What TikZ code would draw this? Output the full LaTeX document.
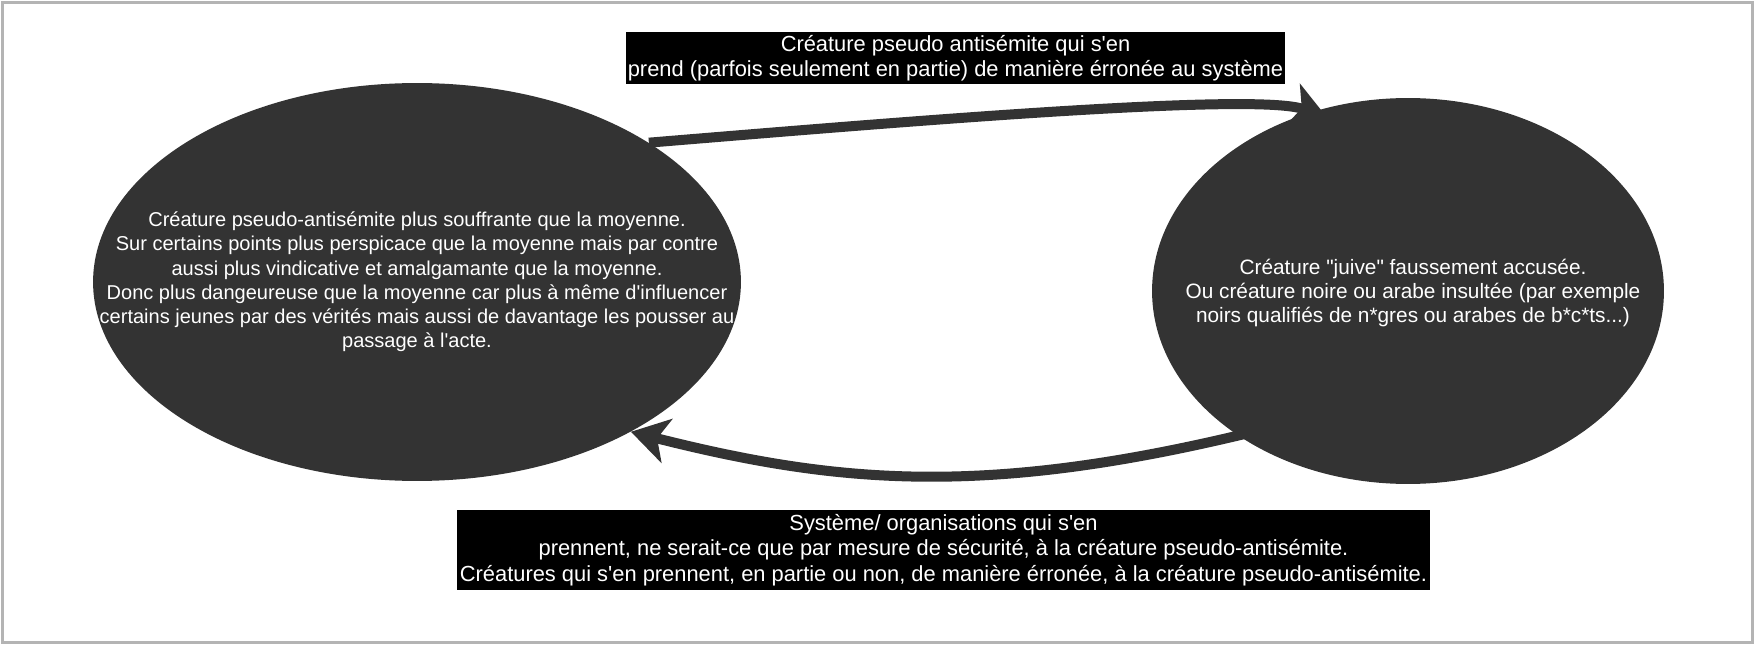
\documentclass[tikz,border=0pt]{standalone}
\usepackage{fontspec}
\setmainfont{Liberation Sans}
\usetikzlibrary{shapes.geometric,arrows.meta,calc}
\definecolor{blobgray}{HTML}{333333}
\definecolor{framegray}{HTML}{B4B4B4}
\begin{document}
\begin{tikzpicture}[x=0.02cm,y=-0.02cm,
    blob/.style={ellipse,fill=blobgray,draw=none,inner sep=0pt},
    blobtext/.style={text=white,align=center,inner sep=0pt,
      font=\fontsize{11.4pt}{13.8pt}\selectfont},
    tag/.style={fill=black,text=white,align=center,inner sep=1pt,
      font=\fontsize{12.45pt}{14pt}\selectfont},
    flow/.style={draw=blobgray,line width=0.2cm,
      -{Stealth[length=0.74cm,width=0.9cm,inset=0.2cm]}}]
      \useasboundingbox (0,0) rectangle (1755,645);
      \draw[framegray,line width=0.06cm] (2.5,2.5) rectangle (1752.5,642);
      \node[blob,minimum width=12.96cm,minimum height=7.96cm] (left) at (417,282) {};
      \node[blob,minimum width=10.24cm,minimum height=7.72cm] (right) at (1408,291) {};
      \node[blobtext] (lefttext) at (left.center)
        {Créature pseudo-antisémite plus souffrante que la moyenne.\\
         Sur certains points plus perspicace que la moyenne mais par contre\\
         aussi plus vindicative et amalgamante que la moyenne.\\
         Donc plus dangeureuse que la moyenne car plus à même d\textquotesingle influencer\\
         certains jeunes par des vérités mais aussi de davantage les pousser au\\
         passage à l\textquotesingle acte.};
      \node[blobtext,font=\fontsize{11.85pt}{13.8pt}\selectfont] (righttext)
        at ([xshift=0.1cm,yshift=-0.04cm]right.center)
        {Créature \textquotedbl juive\textquotedbl\ faussement accusée.\\
         Ou créature noire ou arabe insultée (par exemple\\
         noirs qualifiés de n*gres ou arabes de b*c*ts...)};
      \node[tag,minimum width=13.18cm,minimum height=1.04cm] (toptag) at (955.5,58)
        {Créature pseudo antisémite qui s\textquotesingle en\\
         prend (parfois seulement en partie) de manière érronée au système};
      \node[tag,minimum width=19.46cm,minimum height=1.6cm,
        font=\fontsize{12.45pt}{14.6pt}\selectfont] (bottomtag) at (943.5,550)
        {Système/ organisations qui s\textquotesingle en\\
         prennent, ne serait-ce que par mesure de sécurité, à la créature pseudo-antisémite.\\
         Créatures qui s\textquotesingle en prennent, en partie ou non, de manière érronée, à la créature pseudo-antisémite.};
      \begin{scope}[flow]
        \draw (left.31.6) .. controls (900,122) and (1256,92) .. ($(right.115)!0.2cm!(right.center)$);
        \draw ($(right.222)!0.2cm!(right.center)$) .. controls (985,497) and (838,484) .. (left.-35);
      \end{scope}
    \end{tikzpicture}
\end{document}
